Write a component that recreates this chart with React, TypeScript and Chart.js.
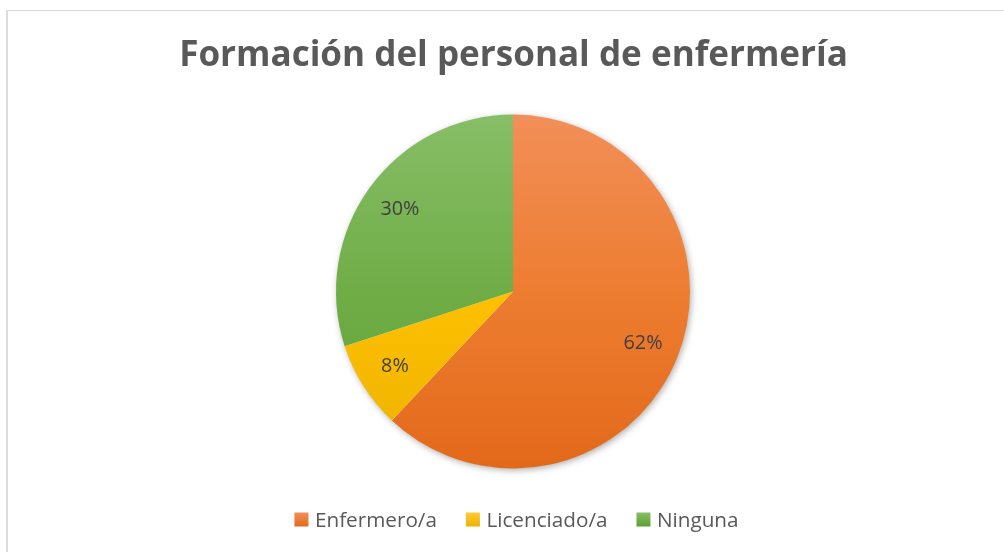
import React, { useEffect, useRef } from "react";
import { Chart, registerables } from "chart.js";

Chart.register(...registerables);

const TITLE = "Formación del personal de enfermería";
const CATEGORIES = ["Enfermero/a", "Licenciado/a", "Ninguna"];
const VALUES = [62, 8, 30];
const VALUE_LABELS = ["62%", "8%", "30%"];
const COLORS_BASE = ["#ED7D31", "#FFC000", "#70AD47"];
const COLORS_TOP = ["#F28F58", "#FFCA38", "#87BE67"];
const COLORS_BOTTOM = ["#E3691A", "#ECB200", "#5E9F32"];

const FONT = "'Open Sans', Lato, sans-serif";
const TEXT_COLOR = "#595959";
const LABEL_COLOR = "#404040";

function fitSize(ctx: CanvasRenderingContext2D, text: string, weight: string, target: number) {
  ctx.font = `${weight} 100px ${FONT}`;
  const w = ctx.measureText(text).width;
  return (100 * target) / w;
}

const decorPlugin = {
  id: "decor",
  beforeDatasetsDraw(chart: any) {
    const meta = chart.getDatasetMeta(0);
    const arc = meta.data[0];
    if (!arc) return;
    const { x, y, outerRadius } = arc.getProps(["x", "y", "outerRadius"], true);
    const ctx = chart.ctx;
    ctx.save();
    ctx.shadowColor = "rgba(0,0,0,0.35)";
    ctx.shadowBlur = 7;
    ctx.shadowOffsetX = 1.5;
    ctx.shadowOffsetY = 2;
    ctx.beginPath();
    ctx.arc(x, y, outerRadius - 0.5, 0, Math.PI * 2);
    ctx.fillStyle = "#ffffff";
    ctx.fill();
    ctx.restore();
  },
  afterDatasetsDraw(chart: any) {
    const ctx = chart.ctx;
    const meta = chart.getDatasetMeta(0);
    ctx.save();
    const size = fitSize(ctx, "62%", "normal", 39);
    ctx.font = `${size}px ${FONT}`;
    ctx.fillStyle = LABEL_COLOR;
    ctx.textAlign = "center";
    ctx.textBaseline = "middle";
    meta.data.forEach((el: any, i: number) => {
      const p = el.getProps(["x", "y", "startAngle", "endAngle", "outerRadius"], true);
      const mid = (p.startAngle + p.endAngle) / 2;
      const r = p.outerRadius * 0.79;
      ctx.fillText(VALUE_LABELS[i], p.x + Math.cos(mid) * r, p.y + Math.sin(mid) * r);
    });
    ctx.restore();
  },
  afterDraw(chart: any) {
    const ctx = chart.ctx;
    ctx.save();
    // Title
    const tSize = fitSize(ctx, TITLE, "bold", 669);
    ctx.font = `bold ${tSize}px ${FONT}`;
    ctx.fillStyle = TEXT_COLOR;
    ctx.textAlign = "center";
    ctx.textBaseline = "alphabetic";
    ctx.fillText(TITLE, 513.5, 66);

    // Legend
    const lSize = fitSize(ctx, CATEGORIES[0], "normal", 122);
    ctx.font = `${lSize}px ${FONT}`;
    const box = 14;
    const gapBoxText = 6.5;
    const gapItems = 29;
    const widths = CATEGORIES.map((c) => ctx.measureText(c).width);
    const total =
      widths.reduce((a, b) => a + b, 0) +
      CATEGORIES.length * (box + gapBoxText) +
      (CATEGORIES.length - 1) * gapItems;
    let x = 516.5 - total / 2;
    const boxTop = 512.5;
    const baseline = 527;
    CATEGORIES.forEach((c, i) => {
      const g = ctx.createLinearGradient(0, boxTop, 0, boxTop + box);
      g.addColorStop(0, COLORS_TOP[i]);
      g.addColorStop(1, COLORS_BOTTOM[i]);
      ctx.fillStyle = g;
      ctx.fillRect(x, boxTop, box, box);
      x += box + gapBoxText;
      ctx.fillStyle = TEXT_COLOR;
      ctx.textAlign = "left";
      ctx.fillText(c, x, baseline);
      x += widths[i] + gapItems;
    });
    ctx.restore();
  },
};

export default function App() {
  const ref = useRef<HTMLCanvasElement | null>(null);

  useEffect(() => {
    if (!ref.current) return;
    const chart = new Chart(ref.current, {
      type: "pie",
      data: {
        labels: CATEGORIES,
        datasets: [
          {
            data: VALUES,
            borderWidth: 0,
            backgroundColor: (context: any) => {
              const i = context.dataIndex;
              const area = context.chart.chartArea;
              if (!area) return COLORS_BASE[i];
              const g = context.chart.ctx.createLinearGradient(0, area.top, 0, area.bottom);
              g.addColorStop(0, COLORS_TOP[i]);
              g.addColorStop(0.5, COLORS_BASE[i]);
              g.addColorStop(1, COLORS_BOTTOM[i]);
              return g;
            },
          },
        ],
      },
      options: {
        responsive: false,
        animation: false,
        layout: { padding: { left: 336, right: 314, top: 114.5, bottom: 83.5 } },
        plugins: {
          legend: { display: false },
          title: { display: false },
          tooltip: { enabled: false },
        },
      },
      plugins: [decorPlugin],
    });
    return () => chart.destroy();
  }, []);

  return (
    <div
      style={{
        position: "absolute",
        left: 0,
        top: 0,
        width: 1004,
        height: 552,
        overflow: "hidden",
        background: "#ffffff",
      }}
    >
      <div
        style={{
          position: "absolute",
          left: 6,
          top: 10,
          width: 1100,
          height: 700,
          borderTop: "1px solid #d9d9d9",
          borderLeft: "2px solid #dcdcdc",
        }}
      />
      <canvas
        ref={ref}
        width={1004}
        height={552}
        style={{ position: "absolute", left: 0, top: 0, width: 1004, height: 552 }}
      />
    </div>
  );
}
